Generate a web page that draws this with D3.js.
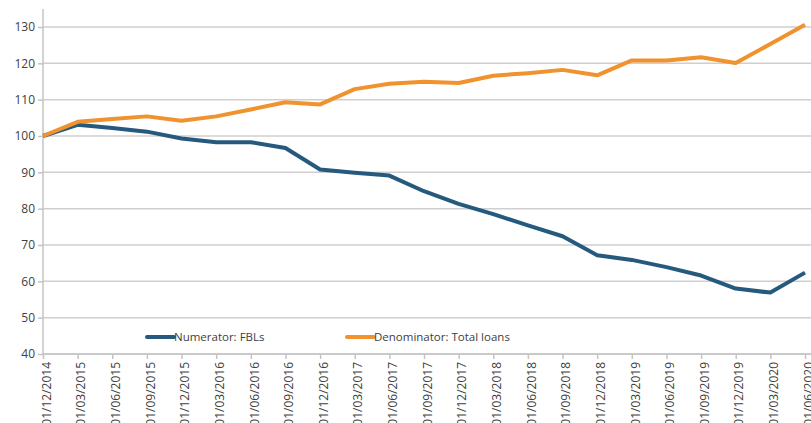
<!DOCTYPE html>
<html>
<head>
<meta charset="utf-8">
<script src="https://d3js.org/d3.v7.min.js"></script>
<style>
 body { margin: 0; background: #fff; }
 text { font-family: "Open Sans", "Liberation Sans", sans-serif; fill: #404040; }
</style>
</head>
<body>
<svg width="811" height="423"></svg>
<script>
 var dates = ["01/12/2014","01/03/2015","01/06/2015","01/09/2015","01/12/2015","01/03/2016",
              "01/06/2016","01/09/2016","01/12/2016","01/03/2017","01/06/2017","01/09/2017",
              "01/12/2017","01/03/2018","01/06/2018","01/09/2018","01/12/2018","01/03/2019",
              "01/06/2019","01/09/2019","01/12/2019","01/03/2020","01/06/2020"];
 var fbls = [100, 103.1, 102.2, 101.2, 99.3, 98.3, 98.3, 96.7, 90.8, 89.9, 89.1, 84.8,
             81.3, 78.5, 75.4, 72.4, 67.2, 65.9, 63.9, 61.6, 58.0, 56.9, 62.4];
 var loans = [100, 103.9, 104.7, 105.4, 104.2, 105.4, 107.3, 109.3, 108.7, 112.9, 114.4, 114.9,
              114.6, 116.6, 117.3, 118.2, 116.7, 120.8, 120.8, 121.7, 120.1, 125.3, 130.6];
 var yTicks = [40, 50, 60, 70, 80, 90, 100, 110, 120, 130];

 var svg = d3.select("svg");
 var mLeft = 43, mRight = 805, mTop = 27, mBottom = 354;

 var x = d3.scalePoint().domain(dates).range([mLeft, mRight]);
 var y = d3.scaleLinear().domain([40, 130]).range([mBottom, mTop]);

 // gridlines
 svg.append("g").selectAll("line").data(yTicks).enter().append("line")
    .attr("x1", mLeft).attr("x2", 811)
    .attr("y1", d => y(d)).attr("y2", d => y(d))
    .attr("stroke", "#cfcfcf").attr("stroke-width", 1.5);

 // y axis
 var yAxis = svg.append("g").attr("transform", "translate(" + mLeft + ",0)")
    .call(d3.axisLeft(y).tickValues(yTicks).tickSize(5).tickPadding(3));
 yAxis.select(".domain").attr("stroke", "#c4c4c4").attr("stroke-width", 1.5)
    .attr("d", "M0," + (mTop - 18) + "V" + mBottom);
 yAxis.selectAll(".tick line").attr("stroke", "#c4c4c4").attr("stroke-width", 1.5);
 yAxis.selectAll(".tick text").attr("font-size", "12px")
    .attr("font-family", "'Open Sans', 'Liberation Sans', sans-serif").attr("fill", "#404040");

 // x axis
 var xAxis = svg.append("g").attr("transform", "translate(0," + mBottom + ")")
    .call(d3.axisBottom(x).tickSize(5).tickSizeOuter(0));
 xAxis.select(".domain").attr("stroke", "#c4c4c4").attr("stroke-width", 1.5)
    .attr("d", "M" + mLeft + ",0H811");
 xAxis.selectAll(".tick line").attr("stroke", "#c4c4c4").attr("stroke-width", 1.5);
 xAxis.selectAll(".tick text")
    .attr("font-size", "12px")
    .attr("font-family", "'Open Sans', 'Liberation Sans', sans-serif").attr("fill", "#404040")
    .attr("text-anchor", "end")
    .attr("transform", "rotate(-90)")
    .attr("x", -8).attr("y", 3).attr("dy", "0.35em")
    .attr("dx", 0);

 var line = d3.line().x((d, i) => x(dates[i])).y(d => y(d)).curve(d3.curveLinear);

 svg.append("path").attr("d", line(fbls))
    .attr("fill", "none").attr("stroke", "#255a7e").attr("stroke-width", 4)
    .attr("stroke-linejoin", "round");
 svg.append("path").attr("d", line(loans))
    .attr("fill", "none").attr("stroke", "#f0922e").attr("stroke-width", 4)
    .attr("stroke-linejoin", "round");

 // legend
 var legend = [["Numerator: FBLs", "#255a7e", 147], ["Denominator: Total loans", "#f0922e", 347]];
 var lg = svg.append("g").selectAll("g").data(legend).enter().append("g");
 lg.append("line")
    .attr("x1", d => d[2]).attr("x2", d => d[2] + 27)
    .attr("y1", 337).attr("y2", 337)
    .attr("stroke", d => d[1]).attr("stroke-width", 4).attr("stroke-linecap", "round");
 lg.append("text")
    .attr("x", d => d[2] + 27).attr("y", 337).attr("dy", "0.35em")
    .attr("font-size", "11.5px")
    .text(d => d[0]);
</script>
</body>
</html>
